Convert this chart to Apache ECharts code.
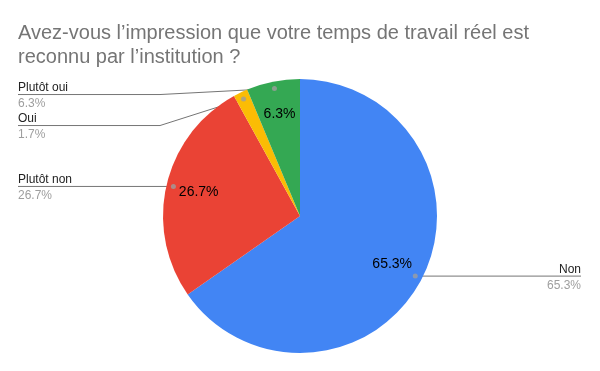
<!DOCTYPE html>
<html><head><meta charset="utf-8">
<script src="https://cdn.jsdelivr.net/npm/echarts@6/dist/echarts.min.js"></script>
<style>html,body{margin:0;padding:0;background:#fff}#c{width:600px;height:371px}</style>
</head><body><div id="c"></div>
<script>
const titleText = 'Avez-vous l’impression que votre temps de travail réel est\nreconnu par l’institution ?';
const categories = ['Non', 'Plutôt non', 'Oui', 'Plutôt oui'];
const values = [65.3, 26.7, 1.7, 6.3];
const colors = ['#4285F4', '#EA4335', '#FBBC04', '#34A853'];

const CX = 300, CY = 216, R = 137, DOT_R = 130;
const FONT = '"Liberation Sans", Arial, sans-serif';

const total = values.reduce((a, b) => a + b, 0);
const mids = [];
let acc = 0;
values.forEach(v => { mids.push((acc + v / 2) / total * 100); acc += v; });

function dotXY(i) {
  const a = mids[i] / 100 * 2 * Math.PI;
  return [CX + DOT_R * Math.sin(a), CY - DOT_R * Math.cos(a)];
}
// stacked label rows on each side, avoiding overlap
const labelY = {};
['L', 'R'].forEach(side => {
  const idx = values.map((v, i) => i).filter(i => (dotXY(i)[0] < CX) === (side === 'L'));
  idx.sort((a, b) => dotXY(a)[1] - dotXY(b)[1]);
  let prev = -Infinity;
  idx.forEach((i, k) => {
    const base = dotXY(i)[1] + (k === 0 && idx.length > 1 ? 6 : 0);
    const y = Math.max(base, prev + 31); labelY[i] = y; prev = y;
  });
});

const chart = echarts.init(document.getElementById('c'), null, { renderer: 'canvas' });
const pieData = categories.map((c, i) => ({ name: c, value: values[i], itemStyle: { color: colors[i] } }));
const ghost = categories.map((c, i) => ({ name: c, value: values[i] }));

chart.setOption({
  backgroundColor: '#fff',
  animation: false,
  title: {
    text: titleText, left: 13, top: 16,
    textStyle: { fontFamily: FONT, fontSize: 20, fontWeight: 'normal', color: '#757575', lineHeight: 24 }
  },
  polar: { center: [CX, CY], radius: R },
  angleAxis: { type: 'value', min: 0, max: 100, startAngle: 90, clockwise: true, show: false },
  radiusAxis: { type: 'value', min: 0, max: R, show: false },
  series: [
    {
      type: 'pie', center: [CX, CY], radius: R, startAngle: 90, clockwise: true,
      data: pieData, label: { show: false }, labelLine: { show: false }, silent: true,
      itemStyle: { borderWidth: 0 }
    },
    {
      type: 'pie', center: [CX, CY], radius: [62, 140], startAngle: 90, clockwise: true, silent: true,
      data: ghost, itemStyle: { color: 'transparent' },
      label: {
        show: true, position: 'inside', fontFamily: FONT, fontSize: 14, color: '#000',
        formatter: p => p.value < 3 ? '' : p.value.toFixed(1) + '%'
      },
      labelLine: { show: false }
    },
    {
      type: 'pie', center: [CX, CY], radius: DOT_R, startAngle: 90, clockwise: true, silent: true,
      data: ghost, itemStyle: { color: 'transparent' },
      label: {
        show: true, position: 'outside',
        formatter: p => '{n|' + p.name + '}\n{v|' + p.value.toFixed(1) + '%}',
        rich: {
          n: { fontFamily: FONT, fontSize: 12, color: '#222', lineHeight: 16 },
          v: { fontFamily: FONT, fontSize: 12, color: '#9e9e9e', lineHeight: 16 }
        }
      },
      labelLine: { show: true, length: 5, length2: 5, lineStyle: { color: '#757575', width: 1 } },
      labelLayout: function (params) {
        const i = params.dataIndex;
        const d = dotXY(i);
        const y = labelY[i];
        const left = d[0] < CX;
        const bendX = left ? CX - R - 3 : CX + R + 3;
        const endX = left ? 18 : 581;
        return {
          x: endX, y: y + 1.5, align: left ? 'left' : 'right', verticalAlign: 'middle',
          labelLinePoints: [[d[0], d[1]], [bendX, y], [endX, y]]
        };
      }
    },
    {
      type: 'scatter', coordinateSystem: 'polar', silent: true,
      symbol: 'circle', symbolSize: 5, itemStyle: { color: '#9e9e9e' },
      data: mids.map(m => [DOT_R, m])
    }
  ]
});
</script></body></html>
